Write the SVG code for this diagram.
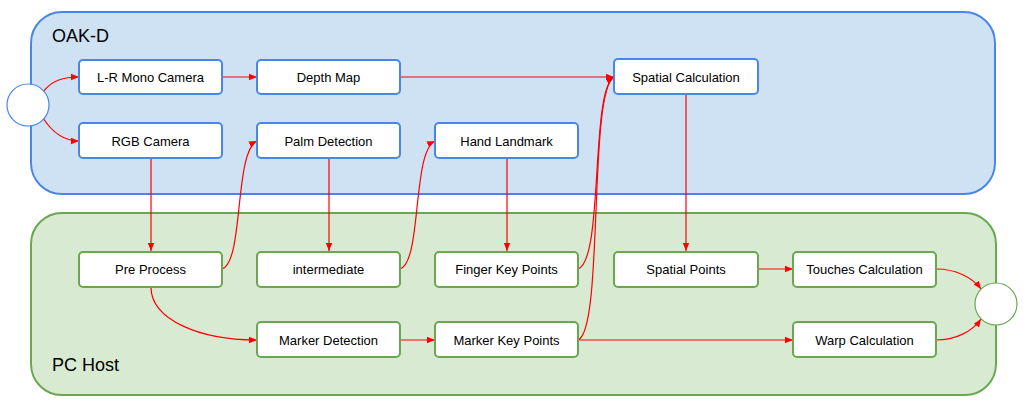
<svg xmlns="http://www.w3.org/2000/svg" width="1024" height="412" viewBox="0 0 1024 412">
<style>
text{font-family:"Liberation Sans",Arial,sans-serif;fill:#000}
.lbl{font-size:13px;text-anchor:middle;dominant-baseline:central}
.title{font-size:18px}
.nb{fill:#fff;stroke:#4a86e8;stroke-width:2}
.ng{fill:#fff;stroke:#6aa84f;stroke-width:2}
.c{fill:none;stroke:#ff0000;stroke-width:1.2;marker-end:url(#ah)}
</style>
<defs>
<marker id="ah" markerUnits="userSpaceOnUse" markerWidth="9" markerHeight="8" refX="8" refY="4" orient="auto">
<path d="M0,0.8 L8,4 L0,7.2 z" fill="#ff0000"/>
</marker>
</defs>
<rect width="1024" height="412" fill="#fff"/>
<g id="oakd">
<rect x="31" y="12" width="964" height="182" rx="31" fill="#cfe2f3" stroke="#4a86e8" stroke-width="2"/>
<text class="title" x="52" y="42">OAK-D</text>
</g>
<g id="pchost">
<rect x="31" y="213" width="965" height="182" rx="31" fill="#d9ead3" stroke="#6aa84f" stroke-width="2"/>
<text class="title" x="52" y="371">PC Host</text>
</g>
<g id="connectors">
<path class="c" d="M43,92 C52,80 64,77 79,77"/>
<path class="c" d="M43,118 C52,132 64,141 79,141"/>
<path class="c" d="M222,77 L257,77"/>
<path class="c" d="M400,77 L614,77"/>
<path class="c" d="M151,158 L151,251"/>
<path class="c" d="M222,269 C244,262 234,152 257,141"/>
<path class="c" d="M329,158 L329,251"/>
<path class="c" d="M400,269 C422,262 412,152 435,141"/>
<path class="c" d="M507,158 L507,251"/>
<path class="c" d="M578,269 C604,260 590,90 614,77"/>
<path class="c" d="M578,340 C604,330 588,92 614,77"/>
<path class="c" d="M686,94 L686,251"/>
<path class="c" d="M758,269 L793,269"/>
<path class="c" d="M151,287 C151,320 200,340 257,340"/>
<path class="c" d="M400,340 L435,340"/>
<path class="c" d="M578,340 L793,340"/>
<path class="c" d="M936,269 C955,269 972,277 981,289"/>
<path class="c" d="M936,340 C955,340 972,332 981,319"/>
</g>
<g id="start"><circle cx="28" cy="105" r="21" fill="#fff" stroke="#4a86e8" stroke-width="1.2"/></g>
<g id="end"><circle cx="996" cy="304" r="21" fill="#fff" stroke="#6aa84f" stroke-width="1.2"/></g>
<g id="lr-mono"><rect class="nb" x="79" y="60" width="143" height="34" rx="4"/><text class="lbl" x="150.5" y="77">L-R Mono Camera</text></g>
<g id="depth-map"><rect class="nb" x="257" y="60" width="143" height="34" rx="4"/><text class="lbl" x="328.5" y="77">Depth Map</text></g>
<g id="spatial-calc"><rect class="nb" x="614" y="59" width="144" height="35" rx="4"/><text class="lbl" x="686" y="77">Spatial Calculation</text></g>
<g id="rgb-camera"><rect class="nb" x="79" y="123" width="143" height="35" rx="4"/><text class="lbl" x="150.5" y="141">RGB Camera</text></g>
<g id="palm-detection"><rect class="nb" x="257" y="123" width="143" height="35" rx="4"/><text class="lbl" x="328.5" y="141">Palm Detection</text></g>
<g id="hand-landmark"><rect class="nb" x="435" y="123" width="143" height="35" rx="4"/><text class="lbl" x="506.5" y="141">Hand Landmark</text></g>
<g id="pre-process"><rect class="ng" x="79" y="252" width="143" height="35" rx="4"/><text class="lbl" x="150.5" y="269">Pre Process</text></g>
<g id="intermediate"><rect class="ng" x="257" y="252" width="143" height="35" rx="4"/><text class="lbl" x="328.5" y="269">intermediate</text></g>
<g id="finger-key-points"><rect class="ng" x="435" y="252" width="143" height="35" rx="4"/><text class="lbl" x="506.5" y="269">Finger Key Points</text></g>
<g id="spatial-points"><rect class="ng" x="614" y="252" width="144" height="35" rx="4"/><text class="lbl" x="686" y="269">Spatial Points</text></g>
<g id="touches-calc"><rect class="ng" x="793" y="252" width="143" height="35" rx="4"/><text class="lbl" x="864.5" y="269">Touches Calculation</text></g>
<g id="marker-detection"><rect class="ng" x="257" y="322" width="143" height="35" rx="4"/><text class="lbl" x="328.5" y="340">Marker Detection</text></g>
<g id="marker-key-points"><rect class="ng" x="435" y="322" width="143" height="35" rx="4"/><text class="lbl" x="506.5" y="340">Marker Key Points</text></g>
<g id="warp-calc"><rect class="ng" x="793" y="322" width="143" height="35" rx="4"/><text class="lbl" x="864.5" y="340">Warp Calculation</text></g>
</svg>
